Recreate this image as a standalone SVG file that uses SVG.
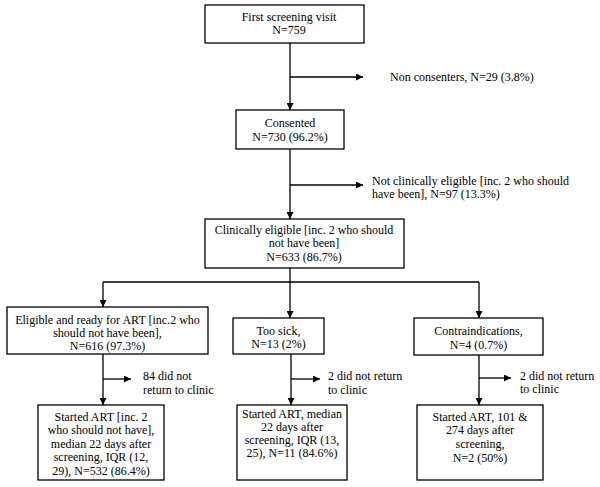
<svg xmlns="http://www.w3.org/2000/svg" width="600" height="487" viewBox="0 0 600 487">
<style>
.box{fill:#fff;stroke:#000;stroke-width:1.3}
.ln{fill:none;stroke:#000;stroke-width:1.3}
.arr{marker-end:url(#ah)}
text{font-family:"Liberation Serif","Times New Roman",serif;font-size:12px;fill:#000}
.c{text-anchor:middle}
</style>
<defs>
<marker id="ah" viewBox="0 0 10 10" refX="10" refY="5" markerWidth="7" markerHeight="7" markerUnits="userSpaceOnUse" orient="auto">
<path d="M0,0 L10,5 L0,10 z" fill="#000"/>
</marker>
</defs>
<rect width="600" height="487" fill="#fff"/>
<g id="connectors">
<path class="ln arr" d="M290,43 V110"/>
<path class="ln arr" d="M290,77 H363"/>
<path class="ln arr" d="M290,149 V219"/>
<path class="ln arr" d="M290,185 H363"/>
<path class="ln" d="M290,268 V282 M103,282 H479"/>
<path class="ln arr" d="M103,282 V307"/>
<path class="ln arr" d="M290,282 V318"/>
<path class="ln arr" d="M479,282 V318"/>
<path class="ln arr" d="M103,354 V405"/>
<path class="ln arr" d="M103,379 H131"/>
<path class="ln arr" d="M291,354 V405"/>
<path class="ln arr" d="M291,379 H320"/>
<path class="ln arr" d="M479,355 V405"/>
<path class="ln arr" d="M479,378 H511"/>
</g>
<g id="first">
<rect class="box" x="205" y="5" width="159" height="38"/>
<text class="c" x="289" y="21">First screening visit</text>
<text class="c" x="289" y="34">N=759</text>
</g>
<g id="nonconsent">
<text x="390" y="81">Non consenters, N=29 (3.8%)</text>
</g>
<g id="consented">
<rect class="box" x="236" y="110" width="108" height="39"/>
<text class="c" x="290" y="127">Consented</text>
<text class="c" x="290" y="141">N=730 (96.2%)</text>
</g>
<g id="noteligible">
<text x="372" y="185">Not clinically eligible [inc. 2 who should</text>
<text x="372" y="198">have been], N=97 (13.3%)</text>
</g>
<g id="eligible">
<rect class="box" x="205" y="219" width="199" height="49"/>
<text class="c" x="304" y="234">Clinically eligible [inc. 2 who should</text>
<text class="c" x="304" y="247">not have been]</text>
<text class="c" x="304" y="261">N=633 (86.7%)</text>
</g>
<g id="ready">
<rect class="box" x="7" y="307" width="201" height="47"/>
<text class="c" x="107.5" y="324">Eligible and ready for ART [inc.2 who</text>
<text class="c" x="107.5" y="337">should not have been],</text>
<text class="c" x="107.5" y="350">N=616 (97.3%)</text>
</g>
<g id="toosick">
<rect class="box" x="233" y="318" width="91" height="36"/>
<text class="c" x="278.5" y="335">Too sick,</text>
<text class="c" x="278.5" y="348">N=13 (2%)</text>
</g>
<g id="contra">
<rect class="box" x="414" y="318" width="129" height="37"/>
<text class="c" x="478.5" y="335">Contraindications,</text>
<text class="c" x="478.5" y="349">N=4 (0.7%)</text>
</g>
<g id="loss1">
<text x="143" y="380">84 did not</text>
<text x="143" y="394">return to clinic</text>
</g>
<g id="loss2">
<text x="328" y="380">2 did not return</text>
<text x="328" y="394">to clinic</text>
</g>
<g id="loss3">
<text x="520" y="380">2 did not return</text>
<text x="520" y="393">to clinic</text>
</g>
<g id="started1">
<rect class="box" x="38" y="405" width="126" height="75"/>
<text class="c" x="101" y="421">Started ART [inc. 2</text>
<text class="c" x="101" y="434">who should not have],</text>
<text class="c" x="101" y="448">median 22 days after</text>
<text class="c" x="101" y="461">screening, IQR (12,</text>
<text class="c" x="101" y="475">29), N=532 (86.4%)</text>
</g>
<g id="started2">
<rect class="box" x="237" y="405" width="110" height="75"/>
<text class="c" x="292" y="418">Started ART, median</text>
<text class="c" x="292" y="431">22 days after</text>
<text class="c" x="292" y="444">screening, IQR (13,</text>
<text class="c" x="292" y="457">25), N=11 (84.6%)</text>
</g>
<g id="started3">
<rect class="box" x="417" y="405" width="126" height="75"/>
<text class="c" x="480" y="421">Started ART, 101 &amp;</text>
<text class="c" x="480" y="434">274 days after</text>
<text class="c" x="480" y="448">screening,</text>
<text class="c" x="480" y="462">N=2 (50%)</text>
</g>
</svg>
